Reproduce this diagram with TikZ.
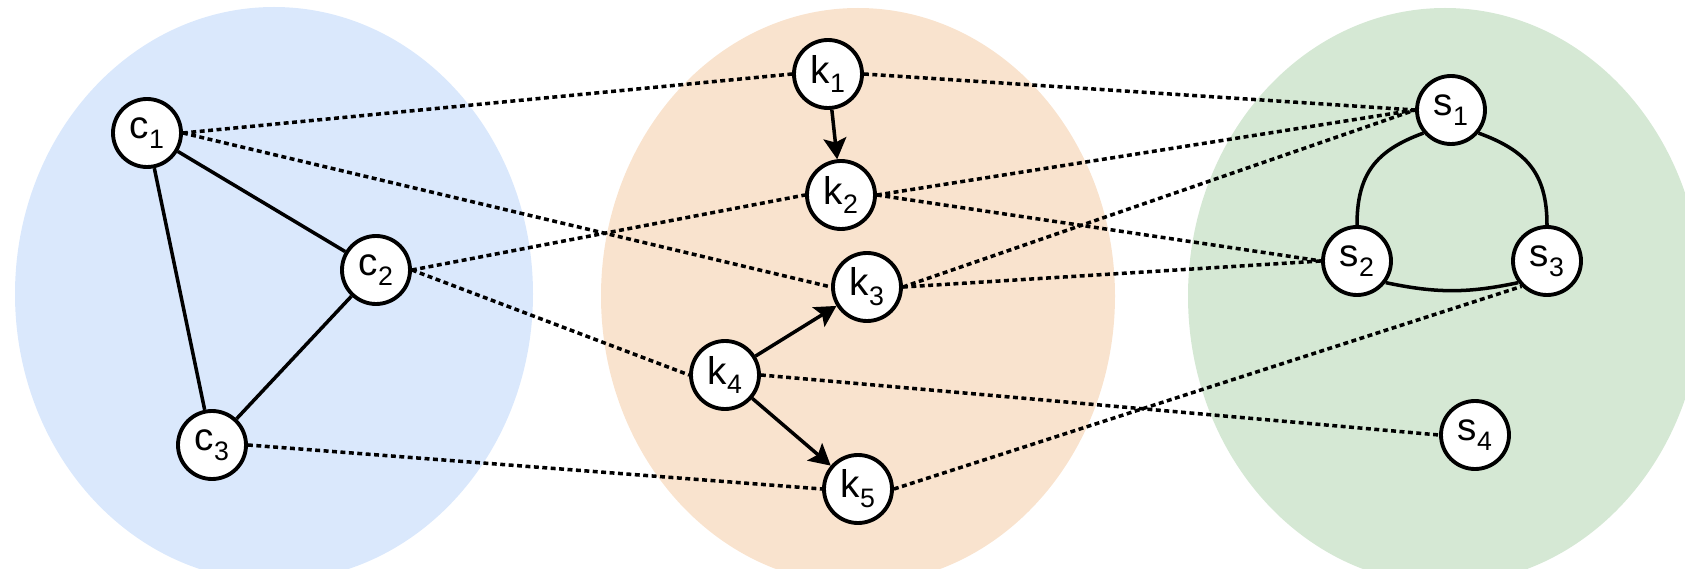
\documentclass[tikz,border=0pt]{standalone}
\usepackage{fontspec}
\setmainfont{Liberation Sans}
\usepackage{tikz}
\usetikzlibrary{arrows.meta}
\definecolor{setblue}{HTML}{DAE8FC}
\definecolor{setorange}{HTML}{F9E3CE}
\definecolor{setgreen}{HTML}{D5E8D4}
\newcommand{\vidx}[1]{\raisebox{-2.8pt}{\fontsize{7.6}{7.6}\selectfont #1}}
\tikzset{vert/.style = {draw, circle, fill=white, line width=1.1pt, inner sep=0, minimum size=0.68cm, font=\fontsize{11}{11}\selectfont}}
\tikzset{link/.style = {line width=1pt}}
\tikzset{dots/.style = {line width=1pt, dash pattern=on 1.4pt off 1pt}}
\tikzset{arr/.style = {line width=1pt, -{Stealth[length=6pt,width=6.5pt,inset=1.2pt]}}}

\begin{document}
\begin{tikzpicture}
        \useasboundingbox (0,0) rectangle (16.85,-5.69);
        \clip (0,0) rectangle (16.85,-5.69);
        \fill [setblue] (2.74,-2.94) ellipse [x radius=2.59, y radius=2.87];
        \fill [setorange] (8.58,-2.96) ellipse [x radius=2.57, y radius=2.88];
        \fill [setgreen] (14.45,-2.96) ellipse [x radius=2.57, y radius=2.88];
        % c
        \node [vert] (c1) at (1.47,-1.33) {c\vidx{1}};
        \node [vert] (c2) at (3.76,-2.70) {c\vidx{2}};
        \node [vert] (c3) at (2.12,-4.45) {c\vidx{3}};
        % k
        \node [vert] (k1) at (8.28,-0.74) {k\vidx{1}};
        \node [vert] (k2) at (8.41,-1.95) {k\vidx{2}};
        \node [vert] (k3) at (8.67,-2.87) {k\vidx{3}};
        \node [vert] (k4) at (7.25,-3.75) {k\vidx{4}};
        \node [vert] (k5) at (8.58,-4.89) {k\vidx{5}};
        % s
        \node [vert] (s1) at (14.51,-1.10) {s\vidx{1}};
        \node [vert] (s2) at (13.57,-2.61) {s\vidx{2}};
        \node [vert] (s3) at (15.47,-2.61) {s\vidx{3}};
        \node [vert] (s4) at (14.75,-4.35) {s\vidx{4}};

        \draw [link] (c1) -- (c2) (c1) -- (c3) (c2) -- (c3);
        \draw [arr] (k1) -- (k2);
        \draw [arr] (k4) -- (k3);
        \draw [arr] (k4) -- (k5);
        \draw [link] (s1.220) to [out=200, in=90, looseness=1.15] (s2.90);
        \draw [link] (s1.-40) to [out=-20, in=90, looseness=1.15] (s3.90);
        \draw [link] (s2.-37) to [out=-12, in=192] (s3.217);

        \draw [dots] (c1.east) -- (k1.west) (c1.east) -- (k3.west);
        \draw [dots] (c2.east) -- (k2.west) (c2.east) -- (k4.west);
        \draw [dots] (c3.east) -- (k5.west);
        \draw [dots] (k1.east) -- (s1.west) (k2.east) -- (s1.west) (k3.east) -- (s1.west);
        \draw [dots] (k2.east) -- (s2.west) (k3.east) -- (s2.west);
        \draw [dots] (k4.east) -- (s4.west);
        \draw [dots] (k5.east) -- (s3.south west);
    \end{tikzpicture}
\end{document}
